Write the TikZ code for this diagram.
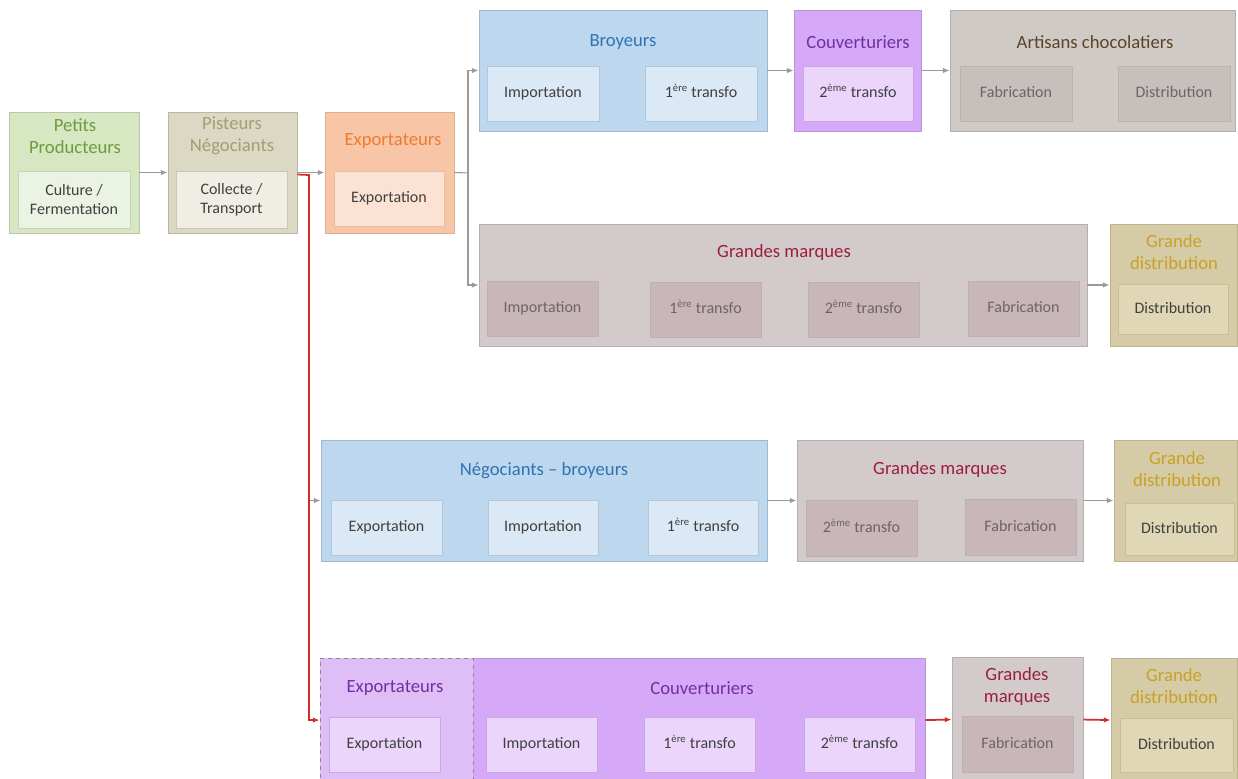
\documentclass[tikz,border=0pt]{standalone}
\usepackage{fontspec}
\setmainfont{Carlito}
\usetikzlibrary{arrows.meta,fit}

% fills, borders and title colours of the actor families
\definecolor{greenF}{HTML}{D6E7C1}\definecolor{greenB}{HTML}{B9C6AA}\definecolor{greenI}{HTML}{EBF3E2}\definecolor{greenT}{HTML}{6F9B3F}
\definecolor{khakiF}{HTML}{DBD8C4}\definecolor{khakiB}{HTML}{BAB7A5}\definecolor{khakiI}{HTML}{EFEDE4}\definecolor{khakiT}{HTML}{A39E74}
\definecolor{orangeF}{HTML}{F8C6A6}\definecolor{orangeB}{HTML}{DDAE90}\definecolor{orangeI}{HTML}{FCE2D2}\definecolor{orangeT}{HTML}{EE7C30}
\definecolor{blueF}{HTML}{BDD7EE}\definecolor{blueB}{HTML}{A2B9CD}\definecolor{blueI}{HTML}{DBE8F5}\definecolor{blueT}{HTML}{2E74B5}
\definecolor{purpF}{HTML}{D6A8F8}\definecolor{purpB}{HTML}{BC93DA}\definecolor{purpI}{HTML}{EBD5FB}\definecolor{purpT}{HTML}{7030A0}
\definecolor{purpL}{HTML}{DFBDF7}
\definecolor{grayF}{HTML}{D0CAC7}\definecolor{grayB}{HTML}{B5AFAC}\definecolor{grayI}{HTML}{C6BFBC}\definecolor{grayT}{HTML}{5B4525}
\definecolor{mauveF}{HTML}{D3CACB}\definecolor{mauveB}{HTML}{B9AEAF}\definecolor{mauveI}{HTML}{C8B6B8}\definecolor{redT}{HTML}{9C1F3A}
\definecolor{goldF}{HTML}{D5CCA7}\definecolor{goldB}{HTML}{BDB48F}\definecolor{goldI}{HTML}{DFD7B5}\definecolor{goldT}{HTML}{C9A124}
\definecolor{arrowgray}{HTML}{9A9A9A}
\definecolor{flowred}{HTML}{D42A2A}
\definecolor{inktext}{HTML}{404040}
\definecolor{mutedtext}{HTML}{6E6466}

\tikzset{
  outerbox/.style={draw=#1B, fill=#1F, line width=0.6pt, inner sep=0pt},
  innerbox/.style={draw=#1B!70!#1I, fill=#1I, line width=0.4pt, inner sep=0pt},
  intwo/.style={text=inktext, font=\fontsize{12}{14}\selectfont, align=center, inner sep=0pt},
  intext/.style={intwo, text height=8.6pt, text depth=2.6pt},
  mutedtext/.style={intext, text=mutedtext},
  titletext/.style={text=#1T, font=\fontsize{14}{16.5}\selectfont, align=center, inner sep=0pt},
  arr/.style={draw=arrowgray, line width=0.8pt, -{Latex[length=5pt,width=4pt]}},
  plainline/.style={draw=arrowgray, line width=0.8pt},
  redarr/.style={draw=flowred, line width=1.3pt, -{Latex[length=5pt,width=4pt]}},
}
\newcommand{\ere}{\textsuperscript{ère}}
\newcommand{\eme}{\textsuperscript{ème}}

\begin{document}
\begin{tikzpicture}[x=0.75pt,y=-0.75pt]
\useasboundingbox (0,0) rectangle (1238,778);

% ---------- upstream chain ----------
\node[outerbox=green, fit={(9,112)(139,233)}] (pp) {};
\node[titletext=green] (ppT) at (75,136) {Petits\\Producteurs};
\node[innerbox=green, fit={(18,171)(130,228)}, label={[intwo]center:Culture /\\Fermentation}] (ppI) {};

\node[outerbox=khaki, fit={(168,112)(297,233)}] (pn) {};
\node[titletext=khaki] (pnT) at (232,136) {Pisteurs\\Négociants};
\node[innerbox=khaki, fit={(176,171)(287,228)}, label={[intwo]center:Collecte /\\Transport}] (pnI) {};

\node[outerbox=orange, fit={(325,112)(454,233)}] (ex) {};
\node[titletext=orange] (exT) at (393,141) {Exportateurs};
\node[innerbox=orange, fit={(334,171)(444,226)}, label={[intext]center:Exportation}] (exI) {};

% ---------- branch 1: grinders ----------
\node[outerbox=blue, fit={(479,10)(767,131)}] (br) {};
\node[titletext=blue] (brT) at (623,42) {Broyeurs};
\node[innerbox=blue, fit={(487,66)(599,121)}, label={[intext]center:Importation}] (brI1) {};
\node[innerbox=blue, fit={(645,66)(757,121)}, label={[intext]center:1\ere{} transfo}] (brI2) {};

\node[outerbox=purp, fit={(794,10)(921,131)}] (cv) {};
\node[titletext=purp] (cvT) at (858,42) {Couverturiers};
\node[innerbox=purp, fit={(803,66)(913,121)}, label={[intext]center:2\eme{} transfo}] (cvI) {};

\node[outerbox=gray, fit={(950,10)(1235,131)}] (ac) {};
\node[titletext=gray] (acT) at (1095,42) {Artisans chocolatiers};
\node[innerbox=gray, fit={(960,66)(1072,121)}, label={[mutedtext]center:Fabrication}] (acI1) {};
\node[innerbox=gray, fit={(1118,66)(1230,121)}, label={[mutedtext]center:Distribution}] (acI2) {};

% ---------- branch 2: big brands ----------
\node[outerbox=mauve, fit={(479,224)(1087,346)}] (gm1) {};
\node[titletext=red] (gm1T) at (784,253) {Grandes marques};
\node[innerbox=mauve, fit={(487,281)(598,336)}, label={[mutedtext]center:Importation}] (gm1I1) {};
\node[innerbox=mauve, fit={(650,282)(761,337)}, label={[mutedtext]center:1\ere{} transfo}] (gm1I2) {};
\node[innerbox=mauve, fit={(808,282)(919,337)}, label={[mutedtext]center:2\eme{} transfo}] (gm1I3) {};
\node[innerbox=mauve, fit={(968,281)(1079,336)}, label={[mutedtext]center:Fabrication}] (gm1I4) {};

\node[outerbox=gold, fit={(1110,224)(1237,346)}] (gd1) {};
\node[titletext=gold] (gd1T) at (1174,252) {Grande\\distribution};
\node[innerbox=gold, fit={(1118,284)(1228,334)}, label={[intext]center:Distribution}] (gd1I) {};

% ---------- branch 3: trader-grinders ----------
\node[outerbox=blue, fit={(321,440)(767,561)}] (nb) {};
\node[titletext=blue] (nbT) at (544,471) {Négociants – broyeurs};
\node[innerbox=blue, fit={(331,500)(442,555)}, label={[intext]center:Exportation}] (nbI1) {};
\node[innerbox=blue, fit={(488,500)(598,555)}, label={[intext]center:Importation}] (nbI2) {};
\node[innerbox=blue, fit={(648,500)(758,555)}, label={[intext]center:1\ere{} transfo}] (nbI3) {};

\node[outerbox=mauve, fit={(797,440)(1083,561)}] (gm2) {};
\node[titletext=red] (gm2T) at (940,470) {Grandes marques};
\node[innerbox=mauve, fit={(806,500)(917,556)}, label={[mutedtext]center:2\eme{} transfo}] (gm2I1) {};
\node[innerbox=mauve, fit={(965,499)(1076,555)}, label={[mutedtext]center:Fabrication}] (gm2I2) {};

\node[outerbox=gold, fit={(1114,440)(1237,561)}] (gd2) {};
\node[titletext=gold] (gd2T) at (1177,469) {Grande\\distribution};
\node[innerbox=gold, fit={(1125,503)(1234,555)}, label={[intext]center:Distribution}] (gd2I) {};

% ---------- branch 4: exporter-couverturiers ----------
\node[outerbox=purp, fit={(320,658)(925,780)}] (cb) {};
\node[draw=black!45, dashed, fill=purpL, line width=0.6pt, inner sep=0pt, fit={(320,658)(473,780)}] (exb) {};
\node[titletext=purp] (exbT) at (395,688) {Exportateurs};
\node[titletext=purp] (cbT) at (702,688) {Couverturiers};
\node[innerbox=purp, fit={(329,717)(440,772)}, label={[intext]center:Exportation}] (exbI) {};
\node[innerbox=purp, fit={(486,717)(597,772)}, label={[intext]center:Importation}] (cbI1) {};
\node[innerbox=purp, fit={(644,717)(755,772)}, label={[intext]center:1\ere{} transfo}] (cbI2) {};
\node[innerbox=purp, fit={(804,717)(915,772)}, label={[intext]center:2\eme{} transfo}] (cbI3) {};

\node[outerbox=mauve, fit={(952,657)(1083,780)}] (gm3) {};
\node[titletext=red] (gm3T) at (1017,687) {Grandes\\marques};
\node[innerbox=mauve, fit={(962,716)(1073,772)}, label={[mutedtext]center:Fabrication}] (gm3I) {};

\node[outerbox=gold, fit={(1111,658)(1237,780)}] (gd3) {};
\node[titletext=gold] (gd3T) at (1174,686) {Grande\\distribution};
\node[innerbox=gold, fit={(1120,718)(1233,772)}, label={[intext]center:Distribution}] (gd3I) {};

% ---------- connectors ----------
\draw[arr] (pp.east) -- (pn.west);
\draw[arr] (pn.east) -- (ex.west);

\coordinate (split) at (468,173);
\draw[plainline] (ex.east) -- (split);
\draw[arr] (split) |- (br.west);
\draw[arr] (split) |- (gm1.west);
\draw[arr] (br.east) -- (cv.west);
\draw[arr] (cv.east) -- (ac.west);
\draw[arr] (gm1.east) -- (gd1.west);

\coordinate (redturn) at (309,175);
\draw[arr] (redturn |- nb.west) -- (nb.west);
\draw[redarr] ([yshift=-1.5pt]pn.east) -- (redturn) |- ([yshift=-0.8pt]exb.west);
\draw[arr] (nb.east) -- (gm2.west);
\draw[arr] (gm2.east) -- (gd2.west);

\draw[redarr] ([yshift=-0.8pt]cb.east) -- ([yshift=-0.8pt]gm3.west);
\draw[redarr] ([yshift=-0.8pt]gm3.east) -- ([yshift=-0.8pt]gd3.west);
\end{tikzpicture}
\end{document}
